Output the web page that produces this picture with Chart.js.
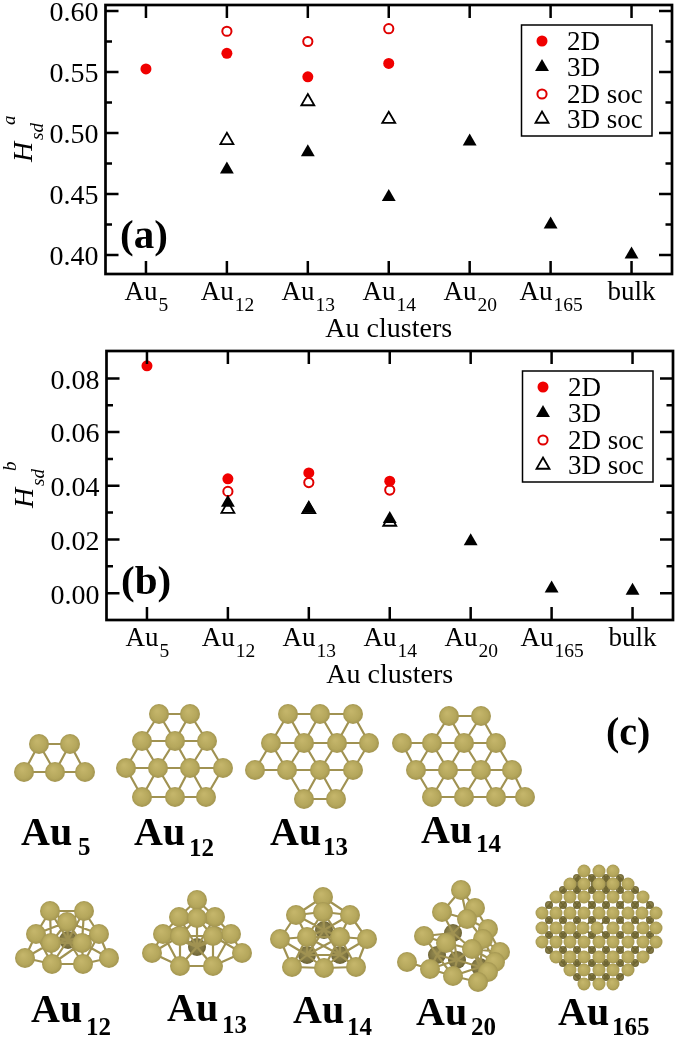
<!DOCTYPE html>
<html>
<head>
<meta charset="utf-8">
<title>Au clusters</title>
<script src="https://cdn.jsdelivr.net/npm/chart.js@4"></script>
<style>
	html, body { margin: 0; padding: 0; background: #fff; overflow: hidden; }
	canvas { position: absolute; display: block; }
</style>
</head>
<body>
<canvas id="chartA" width="675" height="346" style="left:0;top:0"></canvas>
<canvas id="chartB" width="675" height="346" style="left:1px;top:346px"></canvas>
<canvas id="chartC" width="675" height="348" style="left:0;top:690px"></canvas>
<script>
const categories = ['Au5', 'Au12', 'Au13', 'Au14', 'Au20', 'Au165', 'bulk'];
const labelNames = ['Au', 'Au', 'Au', 'Au', 'Au', 'Au', 'bulk'];
const labelSubs = ['5', '12', '13', '14', '20', '165', ''];

/* Panel (a) */
const a2D = [0.5525, 0.5653, 0.546, 0.557, null, null, null];
const a3D = [null, 0.470, 0.4843, 0.4475, 0.493, 0.425, 0.4003];
const a2Dsoc = [null, 0.5834, 0.575, 0.5855, null, null, null];
const a3Dsoc = [null, 0.494, 0.5258, 0.5113, null, null, null];
const aMajorTicks = [0.40, 0.45, 0.50, 0.55, 0.60];
const aMinorTicks = [0.425, 0.475, 0.525, 0.575];

/* Panel (b) */
const b2D = [0.0847, 0.0426, 0.0448, 0.0417, null, null, null];
const b3D = [null, 0.0337, 0.0314, 0.0276, 0.0193, 0.0017, 0.0009];
const b2Dsoc = [null, 0.0379, 0.0412, 0.0384, null, null, null];
const b3Dsoc = [null, 0.0313, 0.0312, 0.0265, null, null, null];
const bMajorTicks = [0.00, 0.02, 0.04, 0.06, 0.08];
const bMinorTicks = [0.01, 0.03, 0.05, 0.07];

/* Panel (c): atoms of the cluster pictures, in picture pixels */
const au5Flat = [[39, 744], [70, 744], [24, 772], [55, 772], [85, 772]];
const au12Flat = [[159, 714], [190, 714], [142, 741], [175, 741], [207, 741], [126, 768], [158, 768], [190, 768], [223, 768], [142, 797], [175, 797], [206, 797]];
const au13Flat = [[288, 714], [320, 714], [353, 714], [271, 743], [304, 743], [337, 743], [369, 743], [255, 770], [287, 770], [320, 770], [353, 770], [304, 799], [336, 799]];
const au14Flat = [[449, 716], [481, 716], [402, 743], [432, 743], [464, 743], [496, 743], [416, 770], [448, 770], [481, 770], [512, 770], [432, 797], [464, 797], [496, 797], [525, 797]];

const au12Solid = [[50, 911], [84, 911], [36, 934], [99, 934], [25, 958], [109, 958], [52, 964], [83, 964], [67, 922], [51, 943], [82, 943]];
const au12Inner = [[68, 940]];
const au13Solid = [[197, 900], [179, 917], [215, 917], [197, 918], [163, 934], [231, 934], [180, 936], [213, 936], [152, 953], [242, 953], [180, 966], [213, 966]];
const au13Inner = [[197, 947]];
const au14Solid = [[323, 897], [296, 915], [350, 915], [323, 912], [280, 939], [367, 939], [307, 937], [340, 937], [292, 967], [324, 968], [356, 967]];
const au14Inner = [[324, 930], [307, 955], [340, 955]];
const au20Solid = [[500, 952], [495, 962], [488, 972], [488, 929], [483, 939], [475, 908], [461, 890], [442, 912], [424, 936], [407, 962], [430, 969], [453, 976], [478, 982], [467, 919], [446, 943], [472, 949]];
const au20Inner = [[453, 933], [437, 955], [457, 960], [480, 967]];

const au165FrontRows = [
	[871, [584, 599, 613]],
	[884, [570, 584, 599, 613, 628]],
	[897, [556, 570, 584, 599, 613, 628, 643]],
	[913, [542, 556, 570, 584, 599, 613, 628, 642, 656]],
	[928, [542, 556, 570, 583, 597, 613, 628, 643, 656]],
	[942, [542, 556, 570, 584, 599, 613, 628, 643, 656]],
	[957, [556, 570, 584, 599, 613, 628, 643]],
	[970, [570, 584, 599, 613, 628]],
	[984, [584, 599, 613]]
];
const au165BackRows = [
	[878, [577, 592, 606, 620]],
	[890, [563, 577, 592, 606, 620, 635]],
	[905, [549, 563, 577, 592, 606, 620, 635, 650]],
	[920, [549, 563, 577, 592, 606, 620, 635, 650]],
	[935, [549, 563, 577, 592, 606, 620, 635, 650]],
	[950, [549, 563, 577, 592, 606, 620, 635, 650]],
	[963, [563, 577, 592, 606, 620, 635]],
	[977, [577, 592, 606, 620]]
];

/* Bold cluster captions of panel (c): name, subscript */
const captionNames = ['Au', 'Au', 'Au', 'Au', 'Au', 'Au', 'Au', 'Au', 'Au'];
const captionSubs = ['5', '12', '13', '14', '12', '13', '14', '20', '165'];

const captionPlaces = [
	{x: 21, y: 845, subX: 78, subY: 855},
	{x: 134, y: 845, subX: 189, subY: 856},
	{x: 270, y: 845, subX: 323, subY: 855},
	{x: 421, y: 843, subX: 476, subY: 852},
	{x: 31, y: 1022, subX: 86, subY: 1035},
	{x: 167, y: 1021, subX: 222, subY: 1033},
	{x: 293, y: 1023, subX: 347, subY: 1035},
	{x: 416, y: 1025, subX: 471, subY: 1035},
	{x: 558, y: 1025, subX: 612, subY: 1035}
];

const SERIF = '"Liberation Serif", serif';

/**
 * Draws one piece of text on the canvas.
 *
 * @param ctx Canvas context.
 * @param text String to draw.
 * @param x Left edge of the text.
 * @param y Baseline of the text.
 * @param font Canvas font string.
 */
function putText(ctx, text, x, y, font) {
	ctx.font = font;
	ctx.fillStyle = '#000';
	ctx.textAlign = 'left';
	ctx.textBaseline = 'alphabetic';
	ctx.fillText(text, x, y);
}

/**
 * Plugin for panels (a) and (b): frame, inward ticks, subscript tick labels,
 * y title, panel letter and boxed legend.
 */
const panelPlugin = {
	id: 'panel',
	afterDatasetsDraw(chart, args, opts) {
		const ctx = chart.ctx;
		const area = chart.chartArea;
		const xs = chart.scales.x;
		const ys = chart.scales.y;

		ctx.save();
		ctx.strokeStyle = '#000';
		ctx.lineWidth = 2.7;
		ctx.strokeRect(area.left, area.top, area.right - area.left, area.bottom - area.top);

		ctx.beginPath();
		ctx.lineWidth = 2.5;
		categories.forEach(function(c, i) {
			const x = xs.getPixelForValue(i);
			ctx.moveTo(x, area.top);
			ctx.lineTo(x, area.top + 13);
			ctx.moveTo(x, area.bottom);
			ctx.lineTo(x, area.bottom - 13);
		});
		opts.major.forEach(function(v) {
			const y = ys.getPixelForValue(v);
			ctx.moveTo(area.left, y);
			ctx.lineTo(area.left + 13, y);
			ctx.moveTo(area.right, y);
			ctx.lineTo(area.right - 13, y);
		});
		opts.minor.forEach(function(v) {
			const y = ys.getPixelForValue(v);
			ctx.moveTo(area.left, y);
			ctx.lineTo(area.left + 6.5, y);
			ctx.moveTo(area.right, y);
			ctx.lineTo(area.right - 6.5, y);
		});
		ctx.stroke();

		/* x tick labels with subscripts */
		categories.forEach(function(c, i) {
			const x = xs.getPixelForValue(i);
			const nameFont = '27px ' + SERIF;
			const subFont = '19.5px ' + SERIF;
			ctx.font = nameFont;
			const nameWidth = ctx.measureText(labelNames[i]).width;
			ctx.font = subFont;
			const subWidth = ctx.measureText(labelSubs[i]).width;
			const left = x - (nameWidth + subWidth) / 2;
			putText(ctx, labelNames[i], left, 300, nameFont);
			if (labelSubs[i]) putText(ctx, labelSubs[i], left + nameWidth + 1, 311, subFont);
		});

		/* y title, rotated */
		ctx.save();
		ctx.rotate(-Math.PI / 2);
		putText(ctx, 'H', -162, 32, 'italic 28px ' + SERIF);
		putText(ctx, 'sd', -140, 43, 'italic 19px ' + SERIF);
		putText(ctx, opts.sup, -125, 15, 'italic 19px ' + SERIF);
		ctx.restore();

		putText(ctx, opts.letter, 120, 248, 'bold 41px ' + SERIF);

		/* legend box */
		ctx.fillStyle = '#fff';
		ctx.fillRect(521.5, 25, 130.5, 111);
		ctx.strokeStyle = '#000';
		ctx.lineWidth = 1.5;
		ctx.strokeRect(521.5, 25, 130.5, 111);
		[41, 67, 94, 119].forEach(function(y, i) {
			const ds = chart.data.datasets[i];
			ctx.fillStyle = ds.backgroundColor;
			ctx.strokeStyle = ds.borderColor;
			ctx.lineWidth = ds.borderWidth;
			Chart.helpers.drawPoint(ctx, {
				pointStyle: ds.pointStyle,
				rotation: 0,
				radius: ds.pointRadius,
				borderWidth: ds.borderWidth
			}, 542, y);
			putText(ctx, ds.label, 567, y + 9, '27px ' + SERIF);
		});
		ctx.restore();
	}
};

/**
 * Builds the four series of one panel.
 *
 * @param solid2D Values of series 2D.
 * @param solid3D Values of series 3D.
 * @param open2D Values of series 2D soc.
 * @param open3D Values of series 3D soc.
 * @returns Array of datasets.
 */
function panelDatasets(solid2D, solid3D, open2D, open3D) {
	return [
		{label: '2D', data: solid2D, pointStyle: 'circle', pointRadius: 5.5, borderWidth: 0,
			backgroundColor: '#f00000', borderColor: '#f00000'},
		{label: '3D', data: solid3D, pointStyle: 'triangle', pointRadius: 8, borderWidth: 0,
			backgroundColor: '#000', borderColor: '#000'},
		{label: '2D soc', data: open2D, pointStyle: 'circle', pointRadius: 4.6, borderWidth: 2,
			backgroundColor: 'rgba(0,0,0,0)', borderColor: '#e00000'},
		{label: '3D soc', data: open3D, pointStyle: 'triangle', pointRadius: 7.5, borderWidth: 1.8,
			backgroundColor: 'rgba(0,0,0,0)', borderColor: '#000'}
	];
}

/**
 * Creates one of the two marker panels.
 *
 * @param canvasID Identifier of the canvas.
 * @param datasets Series of the panel.
 * @param yMin Bottom of the y scale.
 * @param yMax Top of the y scale.
 * @param major Major y ticks, these get a label.
 * @param minor Minor y ticks.
 * @param letter Panel letter.
 * @param sup Superscript of the y title.
 */
function makePanel(canvasID, datasets, yMin, yMax, major, minor, letter, sup) {
	new Chart(document.getElementById(canvasID), {
		type: 'line',
		data: {labels: categories, datasets: datasets},
		plugins: [panelPlugin],
		options: {
			responsive: false,
			animation: false,
			events: [],
			showLine: false,
			layout: {autoPadding: false, padding: {top: 5, right: 3, left: 0, bottom: 0}},
			plugins: {
				legend: {display: false},
				tooltip: {enabled: false},
				panel: {major: major, minor: minor, letter: letter, sup: sup}
			},
			scales: {
				x: {
					type: 'category',
					offset: true,
					grid: {display: false},
					border: {display: false},
					ticks: {display: false},
					afterFit: function(s) {
						s.height = 72;
						s.paddingLeft = 0;
						s.paddingRight = 0;
					},
					title: {
						display: true,
						text: 'Au clusters',
						color: '#000',
						font: {family: SERIF, size: 28},
						padding: {top: 4, bottom: 0}
					}
				},
				y: {
					min: yMin,
					max: yMax,
					grid: {display: false, drawTicks: false, tickLength: 0},
					border: {display: false},
					afterBuildTicks: function(s) {
						s.ticks = major.map(function(v) { return {value: v}; });
					},
					afterFit: function(s) {
						s.width = 105.5;
						s.paddingTop = 0;
						s.paddingBottom = 0;
					},
					ticks: {
						color: '#000',
						font: {family: SERIF, size: 28},
						padding: 7,
						labelOffset: 3,
						callback: function(v) { return v.toFixed(2); }
					}
				}
			}
		}
	});
}

makePanel('chartA', panelDatasets(a2D, a3D, a2Dsoc, a3Dsoc), 0.3844, 0.6049,
          aMajorTicks, aMinorTicks, '(a)', 'a');
makePanel('chartB', panelDatasets(b2D, b3D, b2Dsoc, b3Dsoc), -0.01, 0.0902,
          bMajorTicks, bMinorTicks, '(b)', 'b');

/**
 * Flattens rows of [y, [x, x, ...]] to a list of atoms.
 *
 * @param rows Rows of atoms.
 * @returns Array of [x, y].
 */
function rowsToAtoms(rows) {
	const atoms = [];
	rows.forEach(function(row) {
		row[1].forEach(function(x) { atoms.push([x, row[0]]); });
	});
	return atoms;
}

/**
 * Finds the bonds of one cluster: every pair of atoms closer than maxDist.
 * Pairs are separated by a gap so the line dataset breaks between them.
 *
 * @param atoms Array of [x, y].
 * @param maxDist Longest bond.
 * @returns Points for a line dataset.
 */
function bondPoints(atoms, maxDist) {
	const points = [];
	for (var i = 0; i < atoms.length; i++) {
		for (var j = i + 1; j < atoms.length; j++) {
			if (Math.hypot(atoms[i][0] - atoms[j][0], atoms[i][1] - atoms[j][1]) < maxDist) {
				points.push({x: atoms[i][0], y: atoms[i][1]});
				points.push({x: atoms[j][0], y: atoms[j][1]});
				points.push({x: null, y: null});
			}
		}
	}
	return points;
}

/**
 * Turns atoms to bubble points.
 *
 * @param atoms Array of [x, y].
 * @param r Radius of the atoms.
 * @returns Points for a bubble dataset.
 */
function bubblePoints(atoms, r) {
	return atoms.map(function(a) { return {x: a[0], y: a[1], r: r}; });
}

/**
 * Returns a scriptable fill that shades every atom like a small sphere.
 *
 * @param light Colour of the highlight.
 * @param mid Colour of the body.
 * @param dark Colour of the rim.
 */
function atomFill(light, mid, dark) {
	return function(c) {
		if (!c.raw) return mid;
		const x = c.chart.scales.x.getPixelForValue(c.raw.x);
		const y = c.chart.scales.y.getPixelForValue(c.raw.y);
		if (!isFinite(x) || !isFinite(y)) return mid;
		const r = c.raw.r;
		const g = c.chart.ctx.createRadialGradient(x - r * 0.2, y - r * 0.3, r * 0.1, x, y, r);
		g.addColorStop(0, light);
		g.addColorStop(0.7, mid);
		g.addColorStop(1, dark);
		return g;
	};
}

const au165Front = rowsToAtoms(au165FrontRows);
const au165Back = rowsToAtoms(au165BackRows);

const bonds = [].concat(
	bondPoints(au5Flat, 42),
	bondPoints(au12Flat, 42),
	bondPoints(au13Flat, 42),
	bondPoints(au14Flat, 42),
	bondPoints(au12Solid.concat(au12Inner), 38),
	bondPoints(au13Solid.concat(au13Inner), 38),
	bondPoints(au14Solid.concat(au14Inner), 38),
	bondPoints(au20Solid.concat(au20Inner), 30)
);

const au165Bonds = bondPoints(au165Front.concat(au165Back), 12.5);

const frontAtoms = [].concat(
	bubblePoints(au5Flat, 10),
	bubblePoints(au12Flat, 10),
	bubblePoints(au13Flat, 10),
	bubblePoints(au14Flat, 10),
	bubblePoints(au12Solid, 10),
	bubblePoints(au13Solid, 10),
	bubblePoints(au14Solid, 10),
	bubblePoints(au20Solid, 10),
	bubblePoints(au165Front, 6.5)
);

const backAtoms = [].concat(
	bubblePoints(au12Inner, 9),
	bubblePoints(au13Inner, 9),
	bubblePoints(au14Inner, 9),
	bubblePoints(au20Inner, 9),
	bubblePoints(au165Back, 4)
);

const captionPlugin = {
	id: 'captions',
	afterDatasetsDraw(chart) {
		const ctx = chart.ctx;
		ctx.save();
		const top = chart.scales.y.min;
		captionPlaces.forEach(function(p, i) {
			putText(ctx, captionNames[i], p.x, p.y - top, 'bold 40px ' + SERIF);
			putText(ctx, captionSubs[i], p.subX, p.subY - top, 'bold 25px ' + SERIF);
		});
		putText(ctx, '(c)', 606, 745 - top, 'bold 40px ' + SERIF);
		ctx.restore();
	}
};

new Chart(document.getElementById('chartC'), {
	type: 'bubble',
	data: {
		datasets: [
			{data: frontAtoms, borderWidth: 0, backgroundColor: atomFill('#c4b56a', '#b5a75c', '#a39550')},
			{type: 'scatter', data: bonds, showLine: true, spanGaps: false, pointRadius: 0,
				borderColor: '#a09252', borderWidth: 2.2},
			{type: 'scatter', data: au165Bonds, showLine: true, spanGaps: false, pointRadius: 0,
				borderColor: '#6f6632', borderWidth: 1.8},
			{data: backAtoms, borderWidth: 0, backgroundColor: atomFill('#92884f', '#7f7542', '#6c6335')}
		]
	},
	plugins: [captionPlugin],
	options: {
		responsive: false,
		animation: false,
		events: [],
		layout: {autoPadding: false, padding: 0},
		plugins: {legend: {display: false}, tooltip: {enabled: false}},
		scales: {
			x: {type: 'linear', display: false, min: 0, max: 675},
			y: {type: 'linear', display: false, min: 690, max: 1038, reverse: true}
		}
	}
});
</script>
</body>
</html>
